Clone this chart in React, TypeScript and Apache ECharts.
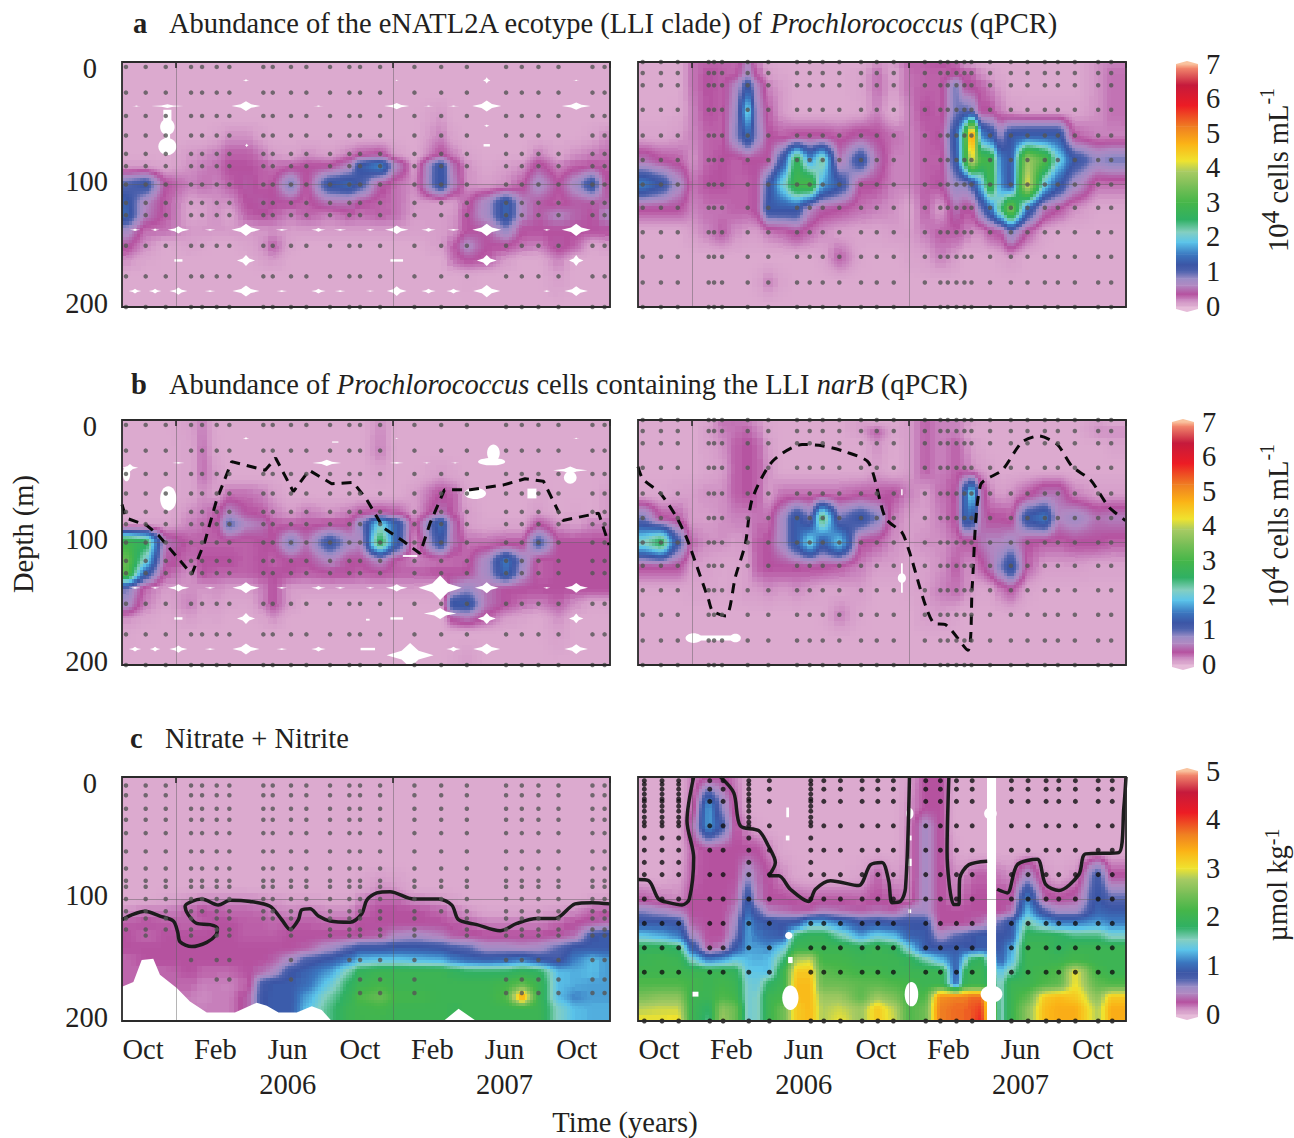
import React, { useEffect, useRef } from "react";
import * as echarts from "echarts";

// ---------- axes ----------
const MONTH_MIN = -3;
const MONTH_MAX = 24;
const MONTH_TICKS = [-3,-2,-1,0,1,2,3,4,5,6,7,8,9,10,11,12,13,14,15,16,17,18,19,20,21,22,23,24];
const YEAR_TICKS = [0, 12, 24];
const MONTH_LABELS: Record<number, string> = { "-2": "Oct", 2: "Feb", 6: "Jun\n2006", 10: "Oct", 14: "Feb", 18: "Jun\n2007", 22: "Oct" };
const LABEL_MONTHS = [-2, 2, 6, 10, 14, 18, 22];

// ---------- colour scale (values on the 0-7 bar) ----------
const STOP_VALUES = [0,.1,.2,.35,.6,.8,1,1.2,1.5,1.85,2.15,2.5,3,3.5,3.9,4.2,4.7,5.2,5.8,6.4,6.9,7];
const STOP_COLORS = ["#dcaacf","#d69fca","#c882bd","#b5519f","#b189c2","#9a8cc6","#4f63ae","#3b55a5","#3b78c0","#5bc4ea","#85cfc0","#2fb064","#46b649","#7cbf58","#a9cb63","#efe32f","#fbb316","#ef7d22","#ed1c24","#c51a3c","#f38a6e","#f9c39f"];

// ---------- grid columns (months from Jan 2006) and depths (m) ----------
const LEFT_COLS = [-2.78,-1.69,-.58,.82,1.43,2.24,2.94,3.94,4.82,5.34,6.35,7.2,8.51,9.58,10.17,11.28,12.2,13.18,14.66,15.34,16.08,17.18,18.25,19.12,20.04,21.15,22.07,23.03,23.7];
const RIGHT_COLS = [-2.74,-1.73,-.8,.01,.91,1.65,2.39,3.07,3.59,4.21,5.01,5.8,6.5,7.22,8.14,9.34,10.21,11.15,12,12.87,13.73,14.62,15.06,15.45,16,16.48,17.06,17.63,18.55,19.51,20.23,21.17,22.46,23.18];
const LEFT_DEPTHS = [0,25,45,60,75,85,100,115,125,138,150,162,175,200];
const RIGHT_DEPTHS = [0,10,20,40,60,80,100,120,140,160,180,200];
const NITRATE_LEFT_DEPTHS = [0,70,90,100,110,120,130,140,150,160,170,180,190,200];
const NITRATE_RIGHT_DEPTHS = [0,25,40,60,80,100,110,120,130,140,150,160,170,180,190,200];

const ZL = [0,0,0,0,0,0,0,0,0,0,0,0,0,0,0,0,0,0,0,0,0,0,0,0,0,0,0,0,0];
const ZR = [0,0,0,0,0,0,0,0,0,0,0,0,0,0,0,0,0,0,0,0,0,0,0,0,0,0,0,0,0,0,0,0,0,0];

// ---------- panel a ----------
const ecotypeLeft = [
ZL,
ZL,
[0,0,0,0,0,0,0,0,0,0,0,0,0,0,0,0,0,0,.12,0,0,0,0,0,0,0,0,0,0],
[0,0,0,0,0,.05,.15,.15,.05,0,0,0,0,0,0,0,0,0,.2,.05,0,0,0,0,0,0,0,.05,.15],
[0,0,0,.12,.15,.2,.3,.3,.2,.1,.05,.15,.08,.2,.3,.35,.1,0,.35,.2,.05,0,0,0,.2,.05,.15,.2,.25],
[.1,.1,.03,.15,.2,.25,.35,.35,.3,.25,.3,.35,.35,.6,1.25,1.6,.6,.1,1.25,.5,.15,.03,.1,.15,.4,.2,.3,.35,.3],
[1,1.2,.35,.2,.25,.2,.3,.4,.3,.35,.9,.3,1.25,1.35,1.1,.4,.25,.15,1.25,.6,.15,.1,.15,.3,.7,.35,.7,1.25,.4],
[1.3,.6,.3,.08,.1,.15,.15,.35,.4,.35,.35,.3,.5,.5,.35,.3,.25,.12,.1,.1,.3,.7,1.35,.6,.4,.3,.4,.4,.45],
[1.35,.55,.3,.05,.08,.15,.05,.3,.35,.3,.2,.3,.2,.3,.25,.3,.25,.1,.1,.12,.35,.7,1.35,.6,.4,.6,.45,.35,.6],
[.7,.25,.25,.12,.12,.12,.12,.12,.12,.15,.1,.1,.1,.1,.1,.1,.1,.08,.1,.15,.35,.4,.8,.35,.35,.35,.35,.35,.35],
[.4,.15,0,.08,.03,0,0,.05,.15,.3,.05,0,0,0,0,0,0,0,.1,.3,.65,.35,.35,.25,.2,.4,.3,.03,.1],
[.15,.03,0,0,0,0,0,0,.08,.12,0,0,0,0,0,0,0,0,0,.25,.35,.3,.1,0,0,.2,0,0,0],
[0,0,0,0,0,0,0,0,0,0,0,0,0,0,0,0,0,0,0,0,.03,0,0,0,0,.1,0,0,0],
ZL,
];
const ecotypeRight = [
[0,0,0,.25,.3,.3,.25,.6,.2,.05,0,0,0,0,0,0,.15,.1,.3,.3,.35,.3,.15,.1,.05,0,0,0,0,0,0,0,.15,.2],
[0,0,0,.25,.35,.3,.3,.7,.3,.1,.03,0,0,0,0,.05,.25,.05,.25,.3,.3,.35,.3,.3,.15,.1,.02,0,0,0,0,0,.15,.25],
[0,0,0,.25,.35,.3,.6,1.25,.6,.2,.1,0,0,0,0,.05,.25,.1,.25,.3,.3,.9,.4,.35,.3,.2,.1,0,0,0,0,0,.15,.25],
[0,0,.02,.2,.35,.3,.7,2,.7,.3,.1,0,0,0,0,.03,.2,0,.2,.35,.3,.9,1,.9,.35,.35,.2,.1,.05,.05,.05,.05,.15,.25],
[.05,.05,.1,.2,.3,.3,.8,1.4,.8,.35,.3,.35,.35,.35,.3,.4,.35,.25,.2,.3,.35,1.3,2.6,5.2,1.6,1.3,.8,1.25,1.3,1.3,1.3,.3,.2,.2],
[.5,.35,.3,.15,.3,.35,.3,.35,.35,.35,1.2,2.7,1.6,2.3,.5,1.25,.5,.2,.2,.3,.3,1.2,2.6,4.2,3,2.9,1.5,1.25,3.8,3.1,2,1.2,.8,.9],
[1.5,1.2,.7,.25,.35,.35,.3,.3,.4,1.1,2,2.9,3,1.7,1.25,.35,.35,.2,.2,.3,.35,.8,.8,1,1.8,2.9,1.6,1.2,4.2,1.9,1.3,.7,.25,.25],
[.35,.35,.35,.2,.25,.25,.3,.3,.4,1.25,1.25,1.25,.6,.4,.35,.25,.2,.15,.05,.3,.1,.5,.35,.35,.9,1.4,2.4,3.5,1.4,.5,.35,.15,.03,.03],
[0,0,0,.1,.2,.3,.15,.1,.1,.2,.25,.35,.25,.15,.08,.05,.05,.1,.1,.2,.3,.3,.25,.15,.15,.3,.35,.8,.3,.05,0,0,0,0],
[0,0,0,0,0,0,0,0,0,0,0,0,0,.05,.3,.03,0,0,.05,.08,.2,.1,0,0,0,0,.05,.1,0,0,0,0,0,0],
[0,0,0,0,0,0,0,0,.05,.2,.05,0,0,0,0,0,0,0,0,0,0,0,0,0,0,0,0,0,0,0,0,0,0,0],
ZR,
];

// ---------- panel b ----------
const narBLeft = [
[0,0,0,.1,.2,0,0,0,0,0,0,0,0,0,0,.15,0,0,0,0,0,0,0,0,0,0,0,0,0],
[0,0,0,.05,.25,.03,0,0,0,0,0,0,0,0,0,.2,0,0,0,0,0,0,0,0,0,0,0,0,0],
[0,0,0,.05,.25,.1,0,0,0,0,0,0,0,0,0,.05,0,0,.1,.05,0,0,0,0,0,0,0,0,0],
[0,0,0,.05,.15,.08,.25,.25,.2,.1,0,0,0,0,0,0,0,.1,.35,.3,.05,0,0,0,.05,0,0,0,.1],
[0,0,0,.15,.2,.3,.6,.35,.3,.2,.1,.2,.12,.2,.3,.35,.3,.1,.5,.3,.1,0,0,0,.1,0,.03,0,.1],
[.05,.05,.05,.2,.25,.35,1,.6,.5,.3,.3,.3,.35,.35,.8,2,1.3,.25,1.4,.5,.1,.03,.05,.05,.35,.15,.1,.2,.2],
[2.9,2.6,.5,.3,.3,.3,.3,.3,.35,.35,.9,.5,1.2,.7,.6,2.6,1.3,.15,1.2,.5,.25,.25,.3,.3,1.1,.35,.35,.35,.35],
[3.3,2,.4,.25,.35,.35,.35,.3,.35,.3,.35,.35,.6,.35,.35,.6,.3,.2,.25,.25,.3,.7,1.5,.8,.3,.35,.35,.35,.35],
[3.2,1.3,.3,.15,.35,.3,.3,.3,.35,.35,.35,.3,.35,.35,.3,.35,.3,.3,.35,.35,.35,.7,1.4,.7,.3,.35,.35,.35,.35],
[.9,.25,.1,.15,.12,.15,.1,.1,.2,.35,.1,.1,.1,.1,.1,.1,.1,.1,.05,.6,.8,.5,.35,.35,.35,.35,.35,.35,.35],
[.7,.2,.05,.2,.08,.1,.05,.03,.2,.35,.1,0,0,0,0,0,0,0,.03,1.25,1.3,.5,.35,.25,.2,.3,.15,.03,.05],
[.15,.05,0,.1,.03,.05,0,0,.05,.15,0,0,0,0,0,0,0,0,0,.4,.5,.3,.1,.05,0,.15,0,0,0],
[.03,0,0,0,0,0,0,0,0,0,0,0,0,0,0,0,0,0,0,0,0,0,0,0,0,.08,0,0,0],
[0,0,0,0,0,0,0,0,0,0,0,0,0,0,0,0,0,0,0,.05,.12,0,0,0,0,0,0,0,0],
];
const narBRight = [
[0,0,0,0,.05,.25,.25,.2,.15,.03,0,0,0,0,0,.1,0,0,.1,.3,.2,.2,.15,.1,0,0,0,0,0,0,0,0,.1,0],
[0,0,0,0,.1,.2,.25,.3,.2,.05,0,0,0,0,0,.1,.3,.05,.1,.3,.2,.2,.15,0,0,0,0,0,0,0,0,0,.15,.15],
[0,0,0,0,.08,.15,.3,.35,.3,.1,0,0,0,0,0,0,.15,0,.1,.3,.2,.3,.2,.1,.03,0,0,0,0,0,0,0,0,.05],
[0,0,0,0,.05,.1,.3,.35,.3,.15,0,0,0,0,0,0,.1,0,.1,.3,.2,.3,.25,.15,.1,.05,0,0,0,0,0,0,0,0],
[.03,.03,.08,.1,.15,.15,.3,.35,.3,.1,.25,.25,.25,.25,.25,.3,.3,.35,.2,.1,.25,.35,1.25,2,.5,.2,.1,.15,.3,.5,.5,.2,.1,.1],
[.9,.35,.3,.1,.1,.15,.2,.2,.25,.25,.7,1.3,.9,2.5,.9,1.25,.9,.2,.1,.1,.2,.35,1.3,1.35,.5,.35,.35,.3,1.25,1.5,.6,.75,.5,.55],
[2.1,2.6,1.1,.25,.15,.15,.1,.15,.3,.35,.7,1.3,2,1.25,1.9,.35,.3,.15,.1,.15,.15,.25,.3,.3,.5,.6,.6,.7,.35,.3,.3,.35,.35,.3],
[.35,.35,.35,.1,.08,.03,.05,.1,.3,.35,.35,.35,.35,.35,.3,.2,.1,.1,.05,.08,.15,.3,.2,.15,.3,.5,.9,1.3,.3,.1,.1,.1,.05,.05],
[.02,.02,.02,.05,.05,.03,.05,.1,.1,.15,.1,.15,.1,.05,.05,.1,0,0,.03,.1,.2,.25,.2,.1,.03,.05,.2,.3,.05,0,0,0,0,0],
[0,0,0,0,0,0,0,0,0,0,0,0,0,.03,.2,.03,0,0,0,.1,.1,.05,0,0,0,0,0,0,0,0,0,0,0,0],
ZR,
ZR,
];

// ---------- panel c (umol/kg) ----------
const nitrateLeft = [
ZL,
ZL,
[0,0,0,0,0,0,0,0,0,0,0,0,0,0,.03,.1,.08,0,0,0,0,0,0,0,0,0,0,0,0],
[0,0,.03,.1,.12,.12,.12,.12,.1,.08,.05,.05,.02,.03,.12,.2,.2,.12,.08,.05,0,0,0,0,0,0,0,.04,.05],
[.1,.15,.15,.2,.25,.22,.2,.2,.18,.15,.12,.15,.12,.12,.2,.25,.25,.25,.2,.15,.1,.03,.03,.05,.05,.08,.12,.2,.2],
[.22,.25,.22,.2,.22,.25,.25,.22,.22,.2,.22,.22,.2,.2,.25,.25,.25,.25,.25,.22,.2,.15,.15,.15,.15,.2,.25,.3,.35],
[.25,.2,.25,.25,.25,.25,.25,.22,.22,.22,.25,.25,.25,.25,.25,.3,.45,.5,.4,.3,.28,.25,.25,.25,.25,.28,.35,.85,.9],
[.25,.25,.25,.25,.25,.25,.25,.25,.25,.25,.25,.3,.5,.7,.85,.85,.9,.9,.85,.75,.7,.5,.5,.45,.5,.7,.9,.9,.9],
[.2,.25,.25,.25,.25,.25,.25,.25,.25,.3,.5,.75,.9,1.1,1.3,1.35,1.35,1.3,1.25,1.1,1,.95,1,1.1,.9,.8,1.1,1.3,1.2],
[.2,.2,.2,.25,.2,.2,.2,.25,.35,.45,.85,.95,1.2,1.6,1.9,2,2,2,2,1.9,1.8,1.8,1.8,1.9,1.85,1.3,1.25,1.3,1.2],
[.2,.2,.2,.2,.15,.15,.14,.2,.8,.9,.9,1,1.4,1.8,2,2.1,2,2,2,2,2,2,2.1,2.3,2,1.3,1.25,1.2,1.2],
[.2,.2,.2,.15,.12,.15,.15,.3,.85,.9,.9,1.2,1.6,1.9,2.2,2.35,2.1,2.1,2,2,2,2,2.2,3.5,2,1.3,1.1,1.2,1.2],
[.2,.2,.2,.15,.15,.15,.15,.3,.85,.9,.9,1.3,1.7,2,2.05,2.1,2,2,2,1.95,2,2,2,2,2,1.5,1.3,1.25,1.25],
[.2,.2,.2,.15,.15,.15,.15,.3,.85,.9,.9,1.3,1.7,2,2.05,2.05,2,2,2,1.95,2,2,2,2,2,1.5,1.3,1.25,1.25],
];
const nitrateRight = [
[0,0,0,.15,.25,.25,.15,0,0,0,0,0,0,0,0,0,0,0,.05,.25,.25,0,0,0,0,0,0,0,0,0,0,0,0,0],
[0,0,0,.18,1.2,.6,.2,0,0,0,0,0,0,0,0,0,0,0,.1,.25,.25,0,0,0,0,0,0,0,0,0,0,0,0,0],
[0,0,0,.35,1.2,.8,.25,.12,.03,0,0,0,0,0,0,0,0,0,.12,.5,.25,0,0,0,0,0,0,0,0,0,0,0,0,0],
[0,0,.02,.2,.25,.25,.25,.25,.25,.15,.02,0,0,0,0,0,0,0,.12,.5,.25,.05,0,0,0,0,0,0,0,0,0,0,0,0],
[0,0,.05,.22,.25,.25,.25,.55,.35,.25,.12,.03,0,0,0,.05,.2,.08,.12,.5,.25,.12,.12,.2,.22,.2,.15,.12,.5,.1,.03,.1,.8,.25],
[.22,.15,.12,.25,.25,.25,.3,.9,.4,.25,.25,.22,.2,.22,.22,.2,.25,.2,.15,.5,.25,.15,.2,.25,.25,.25,.25,.25,1.1,.3,.25,.3,.9,.7],
[.6,.5,.4,.25,.25,.25,.4,1,.7,.4,.35,.3,.3,.4,.35,.3,.35,.3,.5,.5,.25,.25,.25,.25,.25,.25,.25,.35,1.3,.7,.5,.5,.95,.9],
[.9,.9,.85,.3,.25,.25,.5,1.2,.95,.9,.85,.9,1.3,1.3,1.1,.85,.9,.85,.85,.85,.25,.25,.25,.3,.35,.5,.7,.9,1.6,1.3,1.1,1.1,1.2,1.1],
[1.35,1.25,1.1,.5,.25,.25,.6,1.2,1.05,.95,.9,1.8,1.9,1.9,1.6,1.2,1.4,1.3,.95,.9,.5,.7,.75,.85,.9,.9,.85,.9,1.9,1.9,1.85,1.7,1.7,1.5],
[1.9,1.9,1.8,.9,.3,.4,.85,1.2,1.2,1.15,1.4,2,2,2,2,1.9,2,1.9,1.4,.9,.85,.9,.9,.85,.9,.9,.9,1.2,2,2,1.85,2,2,2],
[2,2.05,2,1.5,1.1,1.2,1.4,1.3,1.25,1.3,1.7,2.8,2.9,2.1,2.1,2,2,2,1.9,1.6,1.3,.95,1.4,1.8,1.9,1.4,.95,1.3,2,2,2,2.1,2,2],
[2.05,2.05,2.05,2,2,2,1.9,1.35,1.35,1.3,2,3.2,3.2,2.3,2.2,2.1,2.1,2,2,2,2,.9,1.8,2,2,1.7,1.35,1.6,2,2.1,2.2,3,2.1,2],
[2.2,2.2,2.2,2.1,2,2.1,2,1.45,1.4,1.8,2,3.3,3.3,2.4,2.4,2.3,2.3,2.2,2.1,2,2,1,1.9,2,2,1.8,1.5,2,2,2.2,2.3,3,2.3,2.2],
[2.5,2.6,2.6,2,2,2.2,2.1,1.45,1.5,2,2.1,3.3,3.3,2.7,2.7,2.3,2.7,2.5,2.1,2.2,3.6,3.7,3.7,3.8,3.8,2.7,1.5,2,2.3,3.2,3.3,3.2,2.6,3.2],
[2.85,2.9,2.9,2,1.8,2.6,2.4,1.45,1.5,2,2.4,3.2,3.3,2.8,2.9,2.7,3.2,2.85,2.2,2.4,3.7,3.8,3.8,3.9,4,2.8,1.5,2,2.6,3.3,3.4,3.4,2.8,3.4],
[3,3,3.05,2,1.7,2.7,2.4,1.45,1.5,2,2.4,3.2,3.3,2.8,3,2.7,3.2,2.9,2.2,2.4,3.7,3.8,3.8,3.9,4.1,2.8,1.5,2,2.6,3.3,3.4,3.4,2.8,3.4],
];

// ---------- sample positions ----------
const SAMPLE_LEFT = [-2.78,-1.69,-.58,.82,1.43,2.24,2.94,4.82,5.34,6.35,7.2,8.51,9.58,10.17,11.28,13.18,14.66,16.08,18.25,19.12,20.04,21.15,23.03,23.7];
const SAMPLE_RIGHT = [-2.74,-1.73,-.8,.91,1.21,1.65,3.07,4.21,5.8,6.5,7.22,8.14,9.34,10.21,11.15,12.87,13.73,14.14,14.62,15.06,15.45,16.48,17.63,18.55,19.51,20.23,21.17,22.46,23.18];
const SAMPLE_LEFT_DEPTHS = [4,25,44,60,75,85,100,115,125,150,175,200];
const SAMPLE_RIGHT_DEPTHS = [0,9,19,39,60,80,100,119,139,159,180,200];
const NITRATE_SAMPLE_LEFT_DEPTHS = [7,15,26,35,46,61,75,85,90,100,110,116,125,130,150,166,177];
const NITRATE_SAMPLE_LEFT_MAX = [125,130,125,150,110,166,166,116,116,166,100,130,150,177,177,177,110,130,177,177,177,177,177,177];
const NITRATE_SAMPLE_RIGHT = [-2.65,-1.67,-.75,.97,1.71,3.13,4.27,6.56,7.28,8.2,9.4,10.27,11.13,12.92,13.73,14.62,15.49,17.66,18.58,19.58,20.28,21.2,22.46,23.24];
const NITRATE_SAMPLE_RIGHT_DEPTHS = [3,10,20,40,60,80,100,120,140,160,200];
const NITRATE_DENSE_COLS = [-2.65,-1.67,-.75,3.13,6.56];
const NITRATE_DENSE_DEPTHS = [6,14,18,24,28,33,37,50,70];

// ---------- missing-data patches: month, depth, width (months), height (m), kind (0 star, 1 rectangle, 2 ellipse) ----------
const gapsALeft = [[-.49,36,1.8,3,0],[-.49,44,.45,10,1],[-.49,53,.8,13,2],[-.49,62,.3,8,1],[-.49,69,1,14,2],[3.86,36,1.6,8,0],[12.2,36,1.4,5,0],[17.18,36,1.6,9,0],[22.13,36,1.6,6,0],[-2.2,36,.5,1,0],[7.87,36,.6,1,0],[13.96,36,.6,1,0],[15.34,36,.7,1,0],[3.86,137,1.6,10,0],[17.18,137,1.6,10,0],[22.13,137,1.6,10,0],[12.2,137,1.3,7,0],[.12,137,1.2,6,0],[-2.28,137,.6,2,0],[-1.17,137,.5,2,0],[1.87,137,.6,1.5,0],[5.84,137,.7,1.5,0],[7.87,137,.8,3,0],[9.07,137,.7,1.5,0],[10.73,137,.5,1.5,0],[13.96,137,.8,3,0],[15.34,137,.7,1.5,0],[20.5,137,.4,1.5,0],[.12,162,.45,2,1],[3.86,162,1,9,0],[12.2,162,.7,2,1],[17.18,162,1.1,9,0],[22.13,162,.8,9,0],[-2.28,187,.7,4,0],[-1.17,187,.7,4,0],[.12,187,1,6,0],[1.87,187,.6,1.5,0],[3.86,187,1.5,9,0],[5.84,187,.6,1.5,0],[7.87,187,.8,4,0],[9.07,187,.6,1.5,0],[10.73,187,.5,1,0],[12.2,187,1.1,8,0],[13.96,187,.8,4,0],[15.34,187,.8,4,0],[17.18,187,1.5,10,0],[20.5,187,.4,1.5,0],[22.13,187,1.3,8,0],[3.86,15,.35,2,0],[12.2,15,.25,1,0],[17.18,15,.4,5,0],[22.13,15,.4,1,0],[17.18,52,.3,2,0],[17.18,68,.35,2,1],[3.9,68,.2,3,0]];
const gapsBLeft = [[14.6,137,2.4,20,0],[14.6,158,1.8,9,0],[12.94,192,2.6,20,0],[17.55,27,.7,14,2],[17.45,34,1.5,6,2],[21.8,41,1.9,6,0],[21.8,47,.7,10,2],[-.44,64,.9,20,2],[-2.56,39,.9,6,0],[-2.75,44,.4,12,2],[16.54,60,1.2,9,2],[19.68,60,.5,8,1],[12.94,111,.8,1.5,1],[.12,35,.7,1.5,0],[8.33,35,1.6,5,0],[12.2,35,.8,1.5,0],[13.86,35,.5,1,0],[15.43,35,.5,1,0],[-2.28,137,.6,1.5,0],[-1.17,137,.5,1.5,0],[.12,137,1.2,6,0],[1.87,137,.6,1.5,0],[3.86,137,1.5,9,0],[5.84,137,.6,1.5,0],[7.87,137,.8,3,0],[9.07,137,.6,1.5,0],[10.73,137,.5,1.5,0],[12.2,137,1.2,6,0],[17.18,137,1.3,9,0],[20.5,137,.4,1.5,0],[22.13,137,1.3,8,0],[.12,162,.45,2,1],[3.86,162,1,9,0],[12.2,162,.7,2,1],[10.6,163,.2,1.5,1],[17.18,162,1,9,0],[22.13,162,.8,8,0],[-2.28,187,.7,4,0],[-1.17,187,.6,4,0],[.12,187,1,6,0],[1.87,187,.6,1.5,0],[3.86,187,1.5,9,0],[5.84,187,.6,1.5,0],[7.87,187,.8,4,0],[10.6,187,.8,2,1],[15.34,187,.8,4,0],[17.18,187,1.5,9,0],[22.13,187,1.3,8,0],[3.86,15,.35,2,0],[8.8,18,.35,1,1],[12.2,15,.25,1,0],[22.13,15,.4,1,0]];
const gapsBRight = [[.08,178,.9,8,2],[1.28,178,2.5,4,1],[2.39,178,.6,7,2],[11.6,129,.45,8,2],[11.6,129,.1,24,1],[11.6,59,.08,5,1]];
const gapsCRight = [[16.56,100,.5,200,1],[16.56,178,1.2,14,2],[16.5,30,.7,10,2],[5.28,29,.15,8,1],[5.28,50,.2,4,1],[12.04,30,.4,9,2],[12.04,50,.2,4,1],[12.04,70,.2,6,1],[12.04,110,.15,3,1],[5.34,130,.4,6,2],[5.43,150,.25,5,1],[5.43,181,.9,20,2],[12.13,178,.75,20,2],[.17,178,.35,4,1]];
const emptyBottomNitrate = [[-3,172],[-2.37,168],[-1.91,150],[-1.27,149],[-.9,162],[.03,173],[.76,184],[1.69,193],[3.25,193],[4.45,185],[5.01,187.5],[5.66,193],[6.67,193],[7.5,188],[8.05,191],[8.6,200],[14.79,200],[15.62,190],[16.6,200],[24,200]];

// ---------- lines in b and c ----------
const dashedLeft = [[-3,69],[-2.78,80],[-1.63,86],[-.99,94],[.86,126],[1.59,99],[2.24,65],[3.07,34],[4.92,41],[5.5,31],[6.48,58.5],[7.35,41],[8.6,52],[9.8,51],[10.54,65],[11.46,88],[12.57,99],[13.49,109],[14.05,84],[14.84,57],[16.26,57],[18.11,53],[19.3,48],[20.32,50],[21.39,82],[23.37,76],[23.95,102]];
const dashedRight = [[-3,38],[-2.74,48],[-1.76,60],[-.84,80],[-.29,97],[.27,120],[.91,147],[1.13,156],[1.87,160],[2.39,128],[2.94,101],[3.31,65],[4.42,34],[6.08,20],[7.18,21],[8.48,26],[9.77,35],[10.69,80],[11.61,92],[11.98,106],[13.37,166],[14.01,167],[15.25,188],[15.49,136],[15.95,53],[17.15,41],[18.25,18],[19.18,13],[20.2,20],[21.02,38],[22.04,49],[23.05,71],[23.97,82]];
const contourLeft = [[-3,117],[-2.46,113],[-1.73,110],[-.9,114],[-.16,118],[.08,127],[.21,135],[.86,139],[1.69,135.5],[2.2,129.5],[2.28,124],[1.87,121],[1.13,120],[.67,113],[.49,106],[.86,102],[1.41,100],[2.33,105],[2.98,101],[4.08,102],[5.19,106],[5.84,117],[6.3,125],[6.76,117],[6.94,109],[7.41,108],[7.87,114],[8.51,118],[9.62,119],[10.27,112],[10.54,101],[11.1,95],[11.83,94],[13.13,100],[14.51,100],[15.25,105],[15.62,117],[16.63,121],[17.92,126],[18.85,120],[19.95,116],[20.97,116],[22.07,104],[22.99,103],[24,104]];
const contourRightA = [[-3,84],[-2.41,85],[-1.86,100],[-1.3,103],[-.56,105],[-.16,100],[.08,66],[-.29,36],[.08,0]];
const contourRightB = [[1.56,0],[2.3,13],[2.66,40],[3.68,44],[4.23,57],[4.6,70],[4.23,81],[4.79,81],[5.43,92],[6.45,102],[6.82,92],[7.65,85],[9.21,89],[9.86,72],[10.5,70],[10.87,85],[11.06,103],[11.52,102],[11.8,91],[12.02,0]];
const contourRightC = [[14.2,0],[14.1,61],[14.47,104.5],[14.75,104.5],[14.8,83],[15.3,72],[16.32,69]];
const contourRightD = [[16.87,92],[17.43,95],[17.98,72],[19.09,67.5],[19.55,88],[20.29,93],[21.39,80],[21.76,63],[23.6,62],[23.88,25],[24,0]];

// ---------- layout and style ----------
const FONT = "Liberation Serif";
const INK = "#231f20";
const SIZE = 28.5;
const PANEL_W = 488;
const LEFT_X = 122;
const RIGHT_X = 638;
const ROW_TOPS = [62, 420, 777];
const ROW_H = [245, 245, 244];
const BARS = [{ x: 1176, top: 64, h: 242, max: 7 }, { x: 1172, top: 422, h: 242, max: 7 }, { x: 1176, top: 771, h: 243, max: 5 }];
const GRID_LINE = "rgba(90,90,90,0.45)";

const colorCache = new Map<number, string>();
const rgb = (h: string) => [parseInt(h.slice(1, 3), 16), parseInt(h.slice(3, 5), 16), parseInt(h.slice(5, 7), 16)];
function colorAt(s: number) {
  const key = Math.round(s * 100);
  const cached = colorCache.get(key);
  if (cached) return cached;
  let i = 0;
  while (i < STOP_VALUES.length - 2 && s > STOP_VALUES[i + 1]) i++;
  const f = Math.min(1, Math.max(0, (s - STOP_VALUES[i]) / (STOP_VALUES[i + 1] - STOP_VALUES[i])));
  const a = rgb(STOP_COLORS[i]), b = rgb(STOP_COLORS[i + 1]);
  const c = `rgb(${a.map((v, k) => Math.round(v + (b[k] - v) * f)).join(",")})`;
  colorCache.set(key, c);
  return c;
}
const ease = (t: number) => 0.6 * t + 0.4 * t * t * (3 - 2 * t);

function heatSeries(panel: number, cols: number[], depths: number[], matrix: number[][], max: number) {
  const xs = [MONTH_MIN, ...cols, MONTH_MAX];
  const grid = matrix.map((r) => [r[0], ...r, r[r.length - 1]]);
  const data: number[][] = [];
  for (let r = 0; r < depths.length - 1; r++)
    for (let c = 0; c < xs.length - 1; c++)
      data.push([xs[c], depths[r], xs[c + 1], depths[r + 1], grid[r][c] ?? 0, grid[r][c + 1] ?? 0, grid[r + 1][c] ?? 0, grid[r + 1][c + 1] ?? 0]);
  return {
    type: "custom", xAxisIndex: panel * 2, yAxisIndex: panel * 2, z: 2, silent: true, progressive: 0,
    encode: { x: [0, 2], y: [1, 3] }, data,
    renderItem: (_p: any, api: any) => {
      const a = api.coord([api.value(0), api.value(1)]);
      const b = api.coord([api.value(2), api.value(3)]);
      const q = [api.value(4), api.value(5), api.value(6), api.value(7)].map((v: number) => (v / max) * 7);
      const range = Math.max(...q) - Math.min(...q);
      const x0 = a[0], y0 = a[1], w = b[0] - a[0], h = b[1] - a[1];
      const step = range < 0.01 ? 1e6 : range > 0.25 ? 3 : 5;
      const nx = Math.max(1, Math.round(w / step)), ny = Math.max(1, Math.round(h / step));
      const children: any[] = [];
      for (let j = 0; j < ny; j++)
        for (let i = 0; i < nx; i++) {
          const l = Math.round(x0 + (w * i) / nx), rr = Math.round(x0 + (w * (i + 1)) / nx);
          const t = Math.round(y0 + (h * j) / ny), bb = Math.round(y0 + (h * (j + 1)) / ny);
          if (rr <= l || bb <= t) continue;
          const u = ease((i + 0.5) / nx), v = ease((j + 0.5) / ny);
          const val = q[0] * (1 - u) * (1 - v) + q[1] * u * (1 - v) + q[2] * (1 - u) * v + q[3] * u * v;
          children.push({ type: "rect", shape: { x: l, y: t, width: rr - l, height: bb - t }, style: { fill: colorAt(val) } });
        }
      return { type: "group", children };
    },
  };
}

function gapSeries(panel: number, gaps: number[][]) {
  return {
    type: "custom", xAxisIndex: panel * 2, yAxisIndex: panel * 2, z: 3, silent: true, progressive: 0,
    encode: { x: 0, y: 1 }, data: gaps,
    renderItem: (_p: any, api: any) => {
      const m = api.value(0), d = api.value(1), w = api.value(2), h = api.value(3), kind = api.value(4);
      const a = api.coord([m - w / 2, d - h / 2]), b = api.coord([m + w / 2, d + h / 2]);
      const fill = { fill: "#fff" };
      if (kind === 1) return { type: "rect", shape: { x: a[0], y: a[1], width: b[0] - a[0], height: b[1] - a[1] }, style: fill };
      const cx = (a[0] + b[0]) / 2, cy = (a[1] + b[1]) / 2, rx = (b[0] - a[0]) / 2, ry = (b[1] - a[1]) / 2;
      if (kind === 2) return { type: "ellipse", shape: { cx, cy, rx, ry }, style: fill };
      const ix = rx * 0.36, iy = ry * 0.36;
      return { type: "polygon", shape: { points: [[cx - rx, cy], [cx - ix, cy - iy], [cx, cy - ry], [cx + ix, cy - iy], [cx + rx, cy], [cx + ix, cy + iy], [cx, cy + ry], [cx - ix, cy + iy]] }, style: fill };
    },
  };
}

function dotSeries(panel: number, points: number[][], color = "#555", size = 4.5) {
  return { type: "scatter", xAxisIndex: panel * 2, yAxisIndex: panel * 2, z: 6, silent: true, symbolSize: size, itemStyle: { color }, data: points };
}
const cross = (cols: number[], depths: number[]) => cols.flatMap((c) => depths.map((d) => [c, d]));

function lineSeries(panel: number, data: number[][], dashed: boolean, smooth: number) {
  return {
    type: "line", xAxisIndex: panel * 2, yAxisIndex: panel * 2, z: 5, silent: true, showSymbol: false, symbol: "none", smooth, data,
    lineStyle: dashed ? { color: "#0a0a0a", width: 3, type: [10, 7] } : { color: "#1c1c1c", width: 3.5 },
  };
}

const textStyle = { fontFamily: FONT, fontSize: SIZE, color: INK };

function buildOption() {
  const grid: any[] = [];
  const xAxis: any[] = [];
  const yAxis: any[] = [];
  for (let row = 0; row < 3; row++)
    for (const [col, left] of [LEFT_X, RIGHT_X].entries()) {
      grid.push({ left, top: ROW_TOPS[row], width: PANEL_W, height: ROW_H[row] });
      const g = grid.length - 1;
      xAxis.push({
        gridIndex: g, type: "value", min: MONTH_MIN, max: MONTH_MAX, position: "bottom",
        axisLine: { show: false }, splitLine: { show: false },
        axisTick: { show: true, length: 2.5, customValues: MONTH_TICKS, lineStyle: { color: "#444", width: 1 } },
        axisLabel: {
          show: row === 2, customValues: LABEL_MONTHS, ...textStyle, margin: 11, lineHeight: 35, padding: [0, 0, 0, 6],
          hideOverlap: false, formatter: (v: number) => MONTH_LABELS[v] ?? "",
        },
      });
      xAxis.push({
        gridIndex: g, type: "value", min: MONTH_MIN, max: MONTH_MAX, position: "bottom", z: 4,
        axisLine: { show: false }, axisLabel: { show: false },
        axisTick: { show: true, length: 6, customValues: YEAR_TICKS, lineStyle: { color: "#222", width: 1.5 } },
        splitLine: { show: true, lineStyle: { color: GRID_LINE, width: 1 } },
      });
      const labels = col === 0;
      yAxis.push({
        gridIndex: g, type: "value", inverse: true, min: 0, max: 200, interval: 100,
        axisLine: { show: false }, splitLine: { show: false },
        axisTick: { show: true, length: 6, lineStyle: { color: "#222", width: 1.5 } },
        minorTick: { show: true, splitNumber: 2, length: 3, lineStyle: { color: "#666" } }, minorSplitLine: { show: false },
        axisLabel: {
          show: labels, margin: 14,
          formatter: (v: number) => (v === 0 ? `{z|${v}}` : `{n|${v}}`),
          rich: {
            z: { ...textStyle, padding: [12, 11, 0, 0] },
            n: { ...textStyle, padding: [0, 0, 7, 0] },
          },
        },
      });
      yAxis.push({
        gridIndex: g, type: "value", inverse: true, min: 0, max: 200, z: 4,
        axisLine: { show: false }, axisLabel: { show: false },
        axisTick: { show: false, customValues: [100] },
        splitLine: { show: true, lineStyle: { color: GRID_LINE, width: 1 } },
      });
    }

  const series: any[] = [
    heatSeries(0, LEFT_COLS, LEFT_DEPTHS, ecotypeLeft, 7),
    gapSeries(0, gapsALeft),
    dotSeries(0, cross(SAMPLE_LEFT, SAMPLE_LEFT_DEPTHS)),
    heatSeries(1, RIGHT_COLS, RIGHT_DEPTHS, ecotypeRight, 7),
    dotSeries(1, cross(SAMPLE_RIGHT, SAMPLE_RIGHT_DEPTHS)),
    heatSeries(2, LEFT_COLS, LEFT_DEPTHS, narBLeft, 7),
    gapSeries(2, gapsBLeft),
    dotSeries(2, cross(SAMPLE_LEFT, SAMPLE_LEFT_DEPTHS)),
    lineSeries(2, dashedLeft, true, 0),
    heatSeries(3, RIGHT_COLS, RIGHT_DEPTHS, narBRight, 7),
    gapSeries(3, gapsBRight),
    dotSeries(3, cross(SAMPLE_RIGHT, SAMPLE_RIGHT_DEPTHS)),
    lineSeries(3, dashedRight, true, 0.25),
    heatSeries(4, LEFT_COLS, NITRATE_LEFT_DEPTHS, nitrateLeft, 5),
    {
      type: "line", xAxisIndex: 8, yAxisIndex: 8, z: 3, silent: true, symbol: "none", data: emptyBottomNitrate,
      lineStyle: { width: 0 }, areaStyle: { color: "#fff", opacity: 1, origin: "end" },
    },
    dotSeries(4, SAMPLE_LEFT.flatMap((c, i) => NITRATE_SAMPLE_LEFT_DEPTHS.filter((d) => d <= NITRATE_SAMPLE_LEFT_MAX[i]).map((d) => [c, d]))),
    lineSeries(4, contourLeft, false, 0.3),
    heatSeries(5, RIGHT_COLS, NITRATE_RIGHT_DEPTHS, nitrateRight, 5),
    gapSeries(5, gapsCRight),
    dotSeries(5, cross(NITRATE_SAMPLE_RIGHT, NITRATE_SAMPLE_RIGHT_DEPTHS), "#111", 5),
    dotSeries(5, cross(NITRATE_DENSE_COLS, NITRATE_DENSE_DEPTHS), "#111", 5),
    lineSeries(5, contourRightA, false, 0.3),
    lineSeries(5, contourRightB, false, 0.3),
    lineSeries(5, contourRightC, false, 0.3),
    lineSeries(5, contourRightD, false, 0.3),
  ];

  const graphics: any[] = [];
  for (let row = 0; row < 3; row++)
    for (const left of [LEFT_X, RIGHT_X])
      graphics.push({ type: "rect", z: 50, silent: true, shape: { x: left, y: ROW_TOPS[row], width: PANEL_W, height: ROW_H[row] }, style: { fill: "none", stroke: "#2a2a2a", lineWidth: 1.8 } });

  BARS.forEach((b, i) => {
    grid.push({ left: b.x, top: b.top, width: 22, height: b.h });
    const g = grid.length - 1;
    xAxis.push({ gridIndex: g, type: "value", min: 0, max: 1, show: false });
    yAxis.push({
      gridIndex: g, type: "value", min: 0, max: b.max, interval: 1, position: "right",
      axisLine: { show: false }, axisTick: { show: false }, splitLine: { show: false },
      axisLabel: { ...textStyle, margin: 8 },
    });
    const k = b.max / 7;
    series.push({
      type: "custom", xAxisIndex: 12 + i, yAxisIndex: 12 + i, z: 2, silent: true,
      encode: { y: 1 }, data: STOP_VALUES.slice(0, -1).map((v, j) => [0, v * k, 1, STOP_VALUES[j + 1] * k, j]),
      renderItem: (_p: any, api: any) => {
        const a = api.coord([api.value(0), api.value(3)]), c = api.coord([api.value(2), api.value(1)]);
        const j = api.value(4);
        return {
          type: "rect", shape: { x: a[0], y: a[1], width: c[0] - a[0], height: c[1] - a[1] + 0.5 },
          style: { fill: new echarts.graphic.LinearGradient(0, 1, 0, 0, [{ offset: 0, color: STOP_COLORS[j] }, { offset: 1, color: STOP_COLORS[j + 1] }]) },
        };
      },
    });
    graphics.push({ type: "polygon", silent: true, shape: { points: [[b.x, b.top], [b.x + 11, b.top - 3], [b.x + 22, b.top]] }, style: { fill: STOP_COLORS[STOP_COLORS.length - 1] } });
    graphics.push({ type: "polygon", silent: true, shape: { points: [[b.x, b.top + b.h], [b.x, b.top + b.h + 3], [b.x + 11, b.top + b.h + 6], [b.x + 22, b.top + b.h + 3], [b.x + 22, b.top + b.h]] }, style: { fill: "#e6bcd9" } });
  });

  const serif = { fontFamily: FONT, fill: INK };
  const text = (x: number, y: number, t: string, extra: any = {}) => ({
    type: "text", x, y, silent: true, rotation: extra.rotation ?? 0,
    style: { ...serif, text: t, fontSize: SIZE, verticalAlign: "middle", align: extra.align ?? "left", fontWeight: extra.fontWeight ?? "normal", rich: extra.rich },
  });
  const italic = { i: { fontFamily: FONT, fontStyle: "italic", fontSize: SIZE, fill: INK } };
  const unitRich = {
    n: { fontFamily: FONT, fontSize: SIZE, fill: INK, lineHeight: 36, verticalAlign: "bottom" },
    s: { fontFamily: FONT, fontSize: 20, fill: INK, lineHeight: 36, verticalAlign: "top" },
    b: { fontFamily: FONT, fontSize: 26, fill: INK, lineHeight: 36, verticalAlign: "top" },
  };
  const unitRichLow = {
    n: { fontFamily: FONT, fontSize: SIZE, fill: INK, lineHeight: 30, verticalAlign: "bottom" },
    s: { fontFamily: FONT, fontSize: 20, fill: INK, lineHeight: 30, verticalAlign: "top" },
  };
  graphics.push(
    text(133, 23, "a", { fontWeight: "bold" }),
    text(169, 23, "Abundance of the eNATL2A ecotype (LLI clade) of {i|Prochlorococcus} (qPCR)", { rich: italic }),
    text(131, 384, "b", { fontWeight: "bold" }),
    text(169, 384, "Abundance of {i|Prochlorococcus} cells containing the LLI {i|narB} (qPCR)", { rich: italic }),
    text(130, 738, "c", { fontWeight: "bold" }),
    text(165, 738, "Nitrate + Nitrite"),
    text(23, 534, "Depth (m)", { rotation: Math.PI / 2, align: "center" }),
    text(625, 1122, "Time (years)", { align: "center" }),
    text(1275, 170, "{n|10}{b|4}{n| cells mL}{s|-1}", { rotation: Math.PI / 2, align: "center", rich: unitRich }),
    text(1275, 526, "{n|10}{b|4}{n| cells mL}{s|-1}", { rotation: Math.PI / 2, align: "center", rich: unitRich }),
    text(1277, 885, "{n|\u00b5mol kg}{s|-1}", { rotation: Math.PI / 2, align: "center", rich: unitRichLow }),
  );

  return { animation: false, backgroundColor: "#fff", grid, xAxis, yAxis, series, graphic: { elements: graphics } };
}

export default function App() {
  const ref = useRef<HTMLDivElement>(null);
  useEffect(() => {
    document.body.style.margin = "0";
    const chart = echarts.init(ref.current!, undefined, { renderer: "svg" });
    chart.setOption(buildOption() as any);
    return () => chart.dispose();
  }, []);
  return <div ref={ref} style={{ position: "absolute", left: 0, top: 0, width: 1294, height: 1138 }} />;
}
